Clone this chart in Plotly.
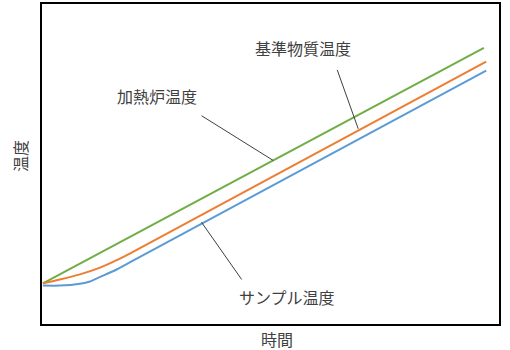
import plotly.graph_objects as go

# Series (time, temperature) in arbitrary units 0-100
furnace_x = [0.2, 96.7]
furnace_y = [12.7, 86.3]

reference_x = [0.2, 3.9, 8.3, 12.7, 16.0, 19.3, 97.2]
reference_y = [12.7, 13.9, 15.5, 17.6, 19.7, 22.1, 82.0]

sample_x = [0.2, 3.9, 8.3, 10.5, 12.7, 16.0, 19.3, 97.2]
sample_y = [12.0, 12.0, 12.6, 13.3, 14.7, 16.8, 19.3, 79.2]

# Labels: (text, text_x, text_y, leader_from_x, leader_from_y, leader_to_x, leader_to_y)
labels = [
    ("加熱炉温度", 25.2, 71.1, 34.9, 65.1, 50.6, 51.1),
    ("基準物質温度", 57.1, 86.3, 64.6, 79.4, 69.2, 61.0),
    ("サンプル温度", 53.7, 8.3, 34.9, 31.8, 43.7, 13.9),
]
x_title = "時間"
y_title = "温度"

FONT = "Noto Sans CJK JP"
TXT = "#404040"

fig = go.Figure()
fig.add_trace(go.Scatter(x=furnace_x, y=furnace_y, mode="lines",
                         line=dict(color="#70AD47", width=2), name="加熱炉温度"))
fig.add_trace(go.Scatter(x=reference_x, y=reference_y, mode="lines",
                         line=dict(color="#ED7D31", width=2, shape="spline", smoothing=0.6),
                         name="基準物質温度"))
fig.add_trace(go.Scatter(x=sample_x, y=sample_y, mode="lines",
                         line=dict(color="#5B9BD5", width=2, shape="spline", smoothing=0.6),
                         name="サンプル温度"))

for text, tx, ty, x0, y0, x1, y1 in labels:
    fig.add_annotation(x=tx, y=ty, xref="x", yref="y", text=text, showarrow=False,
                       xanchor="center", yanchor="middle",
                       font=dict(family=FONT, size=16, color=TXT))
    fig.add_shape(type="line", xref="x", yref="y", x0=x0, y0=y0, x1=x1, y1=y1,
                  line=dict(color=TXT, width=1))

fig.add_annotation(x=0.514, y=-0.0466, xref="paper", yref="paper", text=x_title,
                   xanchor="center", yanchor="middle",
                   showarrow=False, font=dict(family=FONT, size=16, color=TXT))
fig.add_annotation(x=-0.048, y=0.525, xref="paper", yref="paper", text=y_title,
                   xanchor="center", yanchor="middle",
                   textangle=-90, showarrow=False, font=dict(family=FONT, size=16, color=TXT))

axis_common = dict(showgrid=False, zeroline=False, showticklabels=False, ticks="",
                   showline=True, linecolor="black", linewidth=2, mirror=True, fixedrange=True)
fig.update_xaxes(range=[0, 100], **axis_common)
fig.update_yaxes(range=[0, 100], **axis_common)

fig.update_layout(width=510, height=350, margin=dict(l=42, r=11, t=2, b=26),
                  paper_bgcolor="white", plot_bgcolor="white", showlegend=False,
                  font=dict(family=FONT))

fig.write_html("out.html", config={"displayModeBar": False})
